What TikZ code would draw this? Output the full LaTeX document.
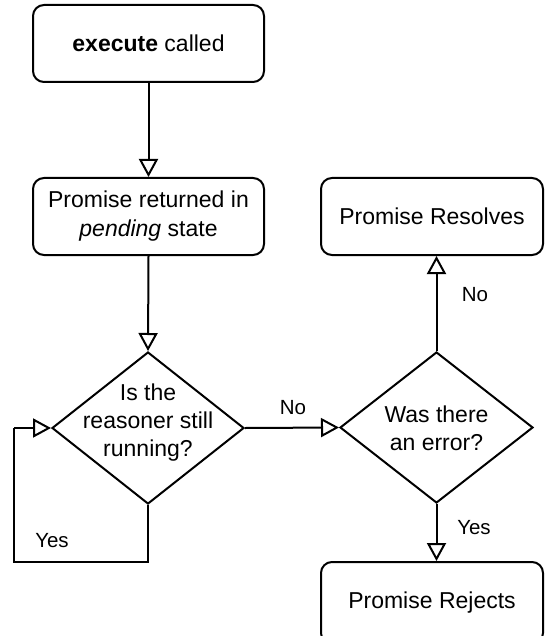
\documentclass[tikz,border=0pt]{standalone}
\usepackage{fontspec}
\setmainfont{Liberation Sans}
\usetikzlibrary{arrows.meta,shapes.geometric}
\begin{document}
\begin{tikzpicture}[x=1pt,y=-1pt,
  every node/.style={font=\fontsize{23}{29}\selectfont},
  stepbox/.style={draw, line width=2pt, rounded corners=11pt, align=center, inner sep=0pt},
  decision/.style={draw, diamond, line width=2pt, inner sep=0pt},
  qtext/.style={align=center, inner sep=0pt, font=\fontsize{23}{28}\selectfont},
  lbl/.style={inner sep=0pt, font=\fontsize{20.5}{24}\selectfont},
  flow/.style={line width=2pt, -{Triangle[length=18pt,width=19pt,fill=white]}},
  plain/.style={line width=2pt}]

  \useasboundingbox[fill=white] (0,0) rectangle (544,636);

  % process boxes
  \node[stepbox, minimum width=231pt, minimum height=77pt] (exec) at (148.5,43.5)
    {\textbf{execute} called};
  \node[stepbox, minimum width=231pt, minimum height=77pt] (pend) at (148.5,216.5)
    {Promise returned in\\\textit{pending} state};
  \node[stepbox, minimum width=222pt, minimum height=77pt] (res) at (432,216.5)
    {Promise Resolves};
  \node[stepbox, minimum width=222pt, minimum height=82pt] (rej) at (432,603)
    {Promise Rejects};

  % decisions
  \node[decision, minimum width=192pt, minimum height=152pt] (run) at (148,428) {};
  \node[qtext] (runt) at (148,423) {Is the\\reasoner still\\running?};
  \node[decision, minimum width=193pt, minimum height=151pt] (err) at (436.5,427.5) {};
  \node[qtext] (errt) at (436.5,428) {Was there\\an error?};

  % waiting loop corners
  \coordinate (lb) at (148,562);
  \coordinate (ll) at (14,562);
  \coordinate (lt) at (14,428);

  % connectors
  \draw[flow] (exec.south) -- (pend.north);
  \draw[flow] (pend.south) -- (run.north);
  \draw[flow] (run.east) -- (err.west);
  \draw[flow] (err.north) -- (err.north |- res.south);
  \draw[flow] (err.south) -- (err.south |- rej.north);
  \draw[plain] (run.south) -- (lb) -- (ll) -- (lt);
  \draw[flow] (lt) -- (run.west);

  % branch labels
  \node[lbl] (noA) at (293,408) {No};
  \node[lbl] (noB) at (475,295) {No};
  \node[lbl] (yesA) at (474,528) {Yes};
  \node[lbl] (yesB) at (52,541) {Yes};
\end{tikzpicture}
\end{document}
